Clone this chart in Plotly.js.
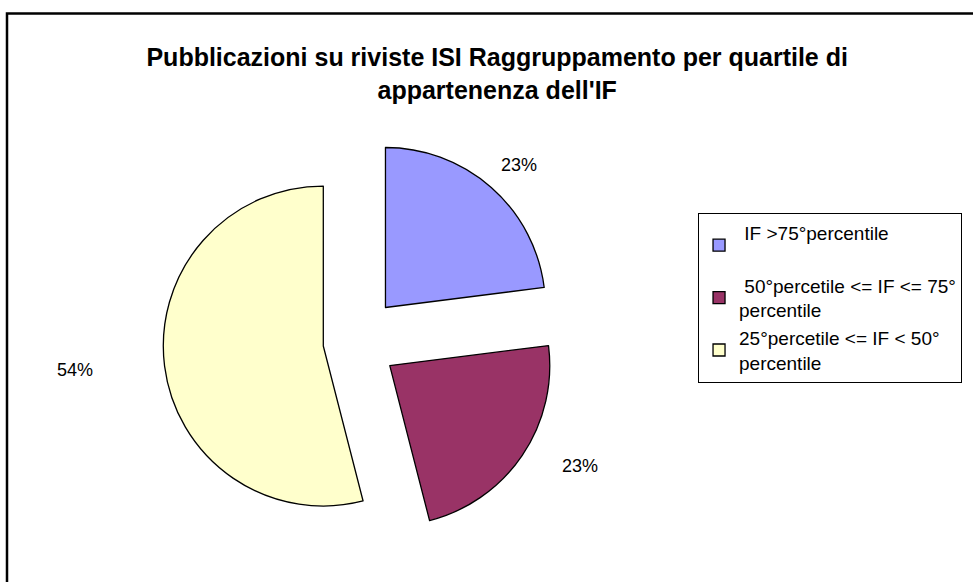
<!DOCTYPE html>
<html>
<head>
<meta charset="utf-8">
<script src="https://cdn.plot.ly/plotly-3.0.1.min.js"></script>
<style>html,body{margin:0;padding:0;background:#fff;}#chart{width:973px;height:582px;}</style>
</head>
<body>
<div id="chart"></div>
<script>
var categories = [
  " IF >75°percentile<br> ",
  " 50°percetile <= IF <= 75°<br>percentile",
  "25°percetile <= IF < 50°<br>percentile"
];
var values = [23, 23, 54];
var colors = ["#9999FF", "#993366", "#FFFFCC"];
var pulls = [0.2875, 0.2625, 0.2];
var labelPos = [[519, 165], [580, 466], [75, 370]];
var titleText = "Pubblicazioni su riviste ISI Raggruppamento per quartile di<br>appartenenza dell'IF";

var W = 973, H = 582;
var FONT = "Liberation Sans, Arial, sans-serif";
var total = values.reduce(function (a, b) { return a + b; }, 0);

var trace = {
  type: "pie",
  labels: categories,
  values: values,
  sort: false,
  direction: "clockwise",
  rotation: 0,
  pull: pulls,
  marker: {colors: colors, line: {color: "#000000", width: 1.3}},
  textinfo: "none",
  domain: {x: [0.1532, 0.5766], y: [0.0584, 0.7663]},
  hoverinfo: "label+percent"
};

var annotations = values.map(function (v, i) {
  return {
    xref: "paper", yref: "paper",
    x: labelPos[i][0] / W, y: 1 - labelPos[i][1] / H,
    xanchor: "center", yanchor: "middle",
    text: Math.round(100 * v / total) + "%",
    showarrow: false,
    font: {family: FONT, size: 18, color: "#000"}
  };
});

var layout = {
  width: W, height: H,
  margin: {l: 0, r: 0, t: 0, b: 0},
  paper_bgcolor: "#ffffff",
  font: {family: FONT, color: "#000"},
  title: {
    text: "<b>" + titleText + "</b>",
    font: {family: FONT, size: 25, color: "#000"},
    x: 0.511, xanchor: "center", y: 0.886, yanchor: "middle"
  },
  showlegend: true,
  legend: {
    x: 0.7174, xanchor: "left", y: 0.634, yanchor: "top",
    bordercolor: "#000", borderwidth: 1, bgcolor: "#fff",
    font: {family: FONT, size: 19, color: "#000"},
    traceorder: "normal"
  },
  annotations: annotations,
  shapes: [{
    type: "rect", xref: "paper", yref: "paper",
    x0: 7 / W, x1: 1.05, y0: -0.05, y1: 1 - 13.5 / H,
    line: {color: "#000", width: 2.5}, fillcolor: "rgba(0,0,0,0)"
  }]
};
Plotly.newPlot("chart", [trace], layout, {displayModeBar: false});
</script>
</body>
</html>
